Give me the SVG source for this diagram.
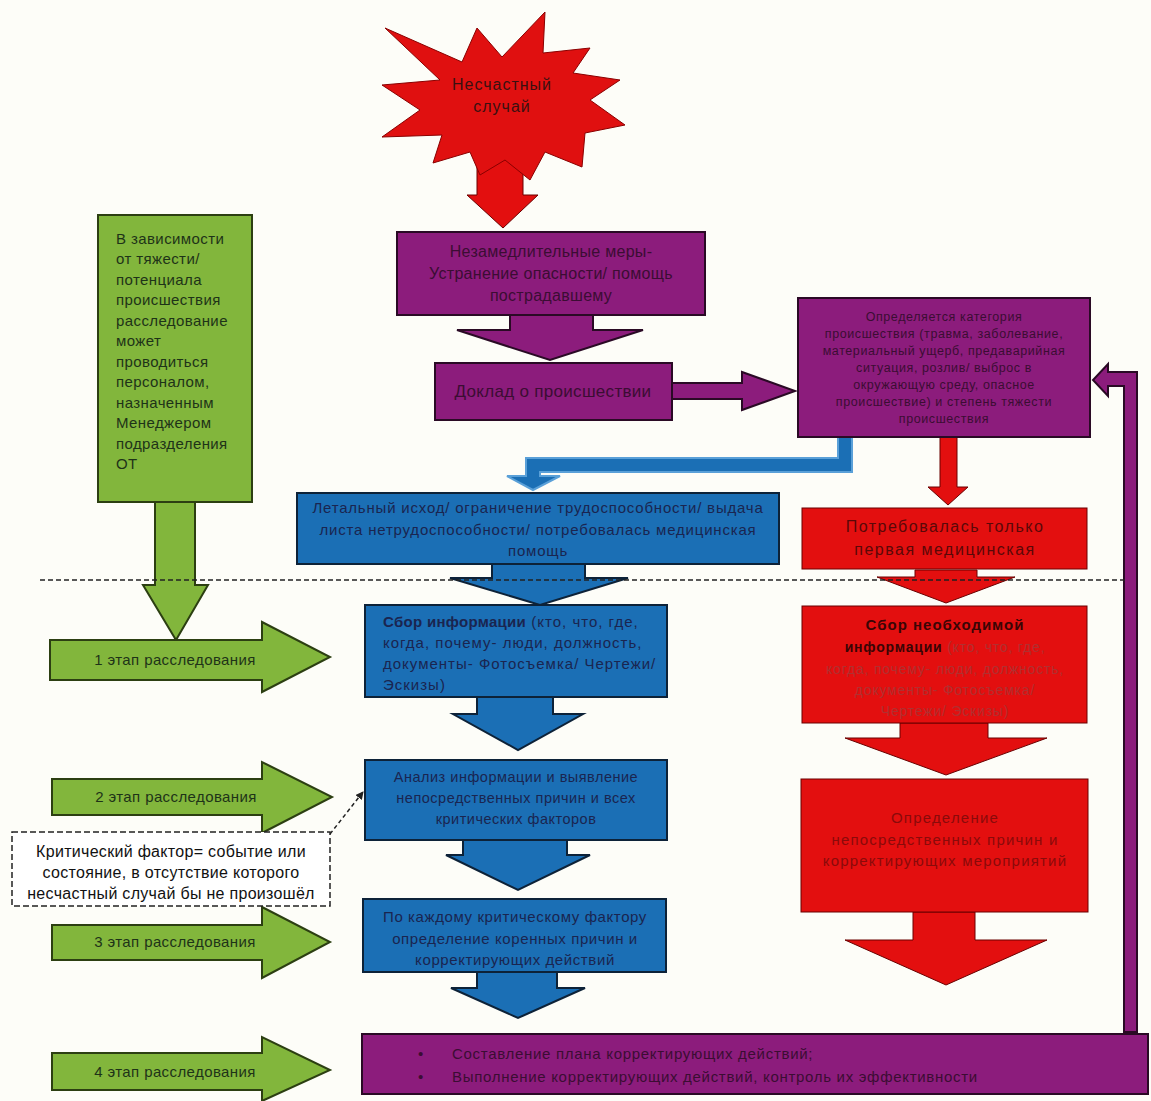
<svg xmlns="http://www.w3.org/2000/svg" width="1151" height="1101" viewBox="0 0 1151 1101">
<defs>
<style>
text{font-family:"Liberation Sans",Arial,sans-serif;}
.pu{fill:#8c1c7c;stroke:#2a0a25;stroke-width:2;}
.bl{fill:#1b6fb5;stroke:#0d2238;stroke-width:2;}
.rd{fill:#e30f0f;stroke:#6a0000;stroke-width:1;}
.gr{fill:#82b63c;stroke:#2c3f12;stroke-width:2;}
.tpu{fill:#3b0d33;font-size:16px;text-anchor:middle;letter-spacing:0.3px;}
.tbl{fill:#1a2550;font-size:15px;text-anchor:middle;letter-spacing:0.6px;}
.trd{fill:#5a0808;font-size:15px;text-anchor:middle;letter-spacing:1px;}
.tgr{fill:#1e3318;font-size:15px;letter-spacing:0.4px;}
.stage{fill:#1e3318;font-size:15px;text-anchor:middle;letter-spacing:0.4px;}
</style>
<marker id="ah" markerWidth="8" markerHeight="8" refX="7" refY="4" orient="auto" markerUnits="userSpaceOnUse">
<path d="M0,0 L8,4 L0,8 z" fill="#222"/>
</marker>
</defs>
<rect width="1151" height="1101" fill="#fdfdf8"/>

<g id="connectors">
<polygon class="rd" points="477,140 523,140 523,195 538,195 503,228 467,195 477,195"/>
<polygon class="pu" points="510,315 593,315 593,330 643,330 550,360 457,330 510,330"/>
<polygon class="pu" points="672,383 742,383 742,372 795,391 742,410 742,399 672,399"/>
<polygon class="bl" points="838,437 852,437 852,472 540,472 540,476 560,476 533,490 507,476 526,476 526,458 838,458" style="stroke:#5aa0d8"/>
<polygon class="rd" points="940,437 957,437 957,487 968,487 948,505 928,487 940,487"/>
<polygon class="bl" points="492,563 585,563 585,578 628,578 540,605 450,578 492,578"/>
<polygon class="rd" points="915,570 977,570 977,577 1015,577 946,603 877,577 915,577"/>
<polygon class="bl" points="477,697 553,697 553,714 583,714 518,750 453,714 477,714"/>
<polygon class="bl" points="463,840 567,840 567,855 590,855 518,890 446,855 463,855"/>
<polygon class="bl" points="477,972 557,972 557,988 585,988 518,1018 451,988 477,988"/>
<polygon class="rd" points="900,723 988,723 988,738 1047,738 946,775 845,738 900,738"/>
<polygon class="rd" points="913,912 975,912 975,940 1047,940 946,985 845,940 913,940"/>
<polygon class="gr" points="155,502 195,502 195,585 208,585 176,640 143,585 155,585"/>
<polygon class="gr" points="50,640 262,640 262,622 330,657 262,692 262,680 50,680"/>
<polygon class="gr" points="52,779 262,779 262,762 332,797 262,833 262,815 52,815"/>
<polygon class="gr" points="52,925 262,925 262,907 330,942 262,978 262,960 52,960"/>
<polygon class="gr" points="52,1053 262,1053 262,1037 330,1070 262,1101 262,1090 52,1090"/>
<polygon class="pu" points="1124,1032 1137,1032 1137,372 1108,372 1108,364 1093,380 1108,396 1108,386 1124,386"/>
<line x1="40" y1="580" x2="1125" y2="580" stroke="#222" stroke-width="1.5" stroke-dasharray="5,3"/>
<line x1="330" y1="834" x2="363" y2="792" stroke="#222" stroke-width="1.5" stroke-dasharray="4,3" marker-end="url(#ah)"/>
</g>

<g id="accident">
<polygon fill="#e01010" stroke="#8a0000" stroke-width="1" points="385,28 462,62 477,28 502,57 545,12 543,53 590,48 573,73 620,80 590,100 625,125 585,133 582,167 545,152 530,180 505,160 480,175 470,152 433,163 442,135 382,137 420,110 382,85 440,80"/>
<text class="tpu" x="502" y="90" style="fill:#3a1010;font-size:16px;letter-spacing:1px">Несчастный</text>
<text class="tpu" x="502" y="112" style="fill:#3a1010;font-size:16px;letter-spacing:1px">случай</text>
</g>

<g id="immediate">
<rect class="pu" x="397" y="232" width="308" height="83"/>
<text class="tpu" x="551" y="257">Незамедлительные меры-</text>
<text class="tpu" x="551" y="279">Устранение опасности/ помощь</text>
<text class="tpu" x="551" y="301">пострадавшему</text>
</g>

<g id="report">
<rect class="pu" x="435" y="363" width="237" height="57"/>
<text class="tpu" x="553" y="397" style="font-size:17px">Доклад о происшествии</text>
</g>

<g id="category">
<rect class="pu" x="798" y="298" width="292" height="139"/>
<g class="tpu" style="font-size:12.5px;letter-spacing:0.6px">
<text x="944" y="321">Определяется категория</text>
<text x="944" y="338">происшествия (травма, заболевание,</text>
<text x="944" y="355">материальный ущерб, предаварийная</text>
<text x="944" y="372">ситуация, розлив/ выброс в</text>
<text x="944" y="389">окружающую среду, опасное</text>
<text x="944" y="406">происшествие) и степень тяжести</text>
<text x="944" y="423">происшествия</text>
</g>
</g>

<g id="note-green">
<rect class="gr" x="98" y="215" width="154" height="287"/>
<g class="tgr">
<text x="116" y="244">В зависимости</text>
<text x="116" y="264">от тяжести/</text>
<text x="116" y="285">потенциала</text>
<text x="116" y="305">происшествия</text>
<text x="116" y="326">расследование</text>
<text x="116" y="346">может</text>
<text x="116" y="367">проводиться</text>
<text x="116" y="387">персоналом,</text>
<text x="116" y="408">назначенным</text>
<text x="116" y="428">Менеджером</text>
<text x="116" y="449">подразделения</text>
<text x="116" y="469">ОТ</text>
</g>
</g>

<g id="fatal">
<rect class="bl" x="297" y="493" width="482" height="71"/>
<text class="tbl" x="538" y="513" style="letter-spacing:0.8px">Летальный исход/ ограничение трудоспособности/ выдача</text>
<text class="tbl" x="538" y="535" style="letter-spacing:0.8px">листа нетрудоспособности/ потребовалась медицинская</text>
<text class="tbl" x="538" y="556" style="letter-spacing:0.8px">помощь</text>
</g>

<g id="firstaid">
<rect class="rd" x="802" y="508" width="285" height="61"/>
<text class="trd" x="945" y="532" style="font-size:16px;letter-spacing:1.5px">Потребовалась только</text>
<text class="trd" x="945" y="555" style="font-size:16px;letter-spacing:1.5px">первая медицинская</text>
</g>

<g id="stage1-label"><text class="stage" x="175" y="665">1 этап расследования</text></g>
<g id="stage2-label"><text class="stage" x="176" y="802">2 этап расследования</text></g>
<g id="stage3-label"><text class="stage" x="175" y="947">3 этап расследования</text></g>
<g id="stage4-label"><text class="stage" x="175" y="1077">4 этап расследования</text></g>

<g id="collect">
<rect class="bl" x="365" y="605" width="302" height="92"/>
<g class="tbl" style="text-anchor:start;letter-spacing:1px">
<text x="383" y="627"><tspan font-weight="bold" letter-spacing="0.3">Сбор информации</tspan> (кто, что, где,</text>
<text x="383" y="648">когда, почему- люди, должность,</text>
<text x="383" y="669">документы- Фотосъемка/ Чертежи/</text>
<text x="383" y="690">Эскизы)</text>
</g>
</g>

<g id="collect-red">
<rect class="rd" x="802" y="606" width="285" height="117"/>
<text class="trd" x="945" y="630" style="font-weight:bold;fill:#3a0505">Сбор необходимой</text>
<text class="trd" x="945" y="652" style="font-size:14px;letter-spacing:0.8px"><tspan style="font-weight:bold;fill:#3a0505">информации</tspan><tspan style="fill:#b03030"> (кто, что, где,</tspan></text>
<text class="trd" x="945" y="674" style="font-size:14px;letter-spacing:0.8px;fill:#b03030">когда, почему- люди, должность,</text>
<text class="trd" x="945" y="695" style="font-size:14px;letter-spacing:0.8px;fill:#b03030">документы- Фотосъемка/</text>
<text class="trd" x="945" y="716" style="font-size:14px;letter-spacing:0.8px;fill:#b03030">Чертежи/ Эскизы)</text>
</g>

<g id="analysis">
<rect class="bl" x="365" y="760" width="302" height="80"/>
<text class="tbl" x="516" y="782" style="font-size:14.5px;letter-spacing:0.5px">Анализ информации и выявление</text>
<text class="tbl" x="516" y="803" style="font-size:14.5px;letter-spacing:0.5px">непосредственных причин и всех</text>
<text class="tbl" x="516" y="824" style="font-size:14.5px;letter-spacing:0.5px">критических факторов</text>
</g>

<g id="determine-red">
<rect class="rd" x="801" y="779" width="287" height="133"/>
<text class="trd" x="945" y="823" style="fill:#8a0a0a;letter-spacing:1.2px">Определение</text>
<text class="trd" x="945" y="845" style="fill:#8a0a0a;letter-spacing:1.2px">непосредственных причин и</text>
<text class="trd" x="945" y="866" style="fill:#8a0a0a;letter-spacing:1.2px">корректирующих мероприятий</text>
</g>

<g id="critical-note">
<rect x="12" y="832" width="318" height="74" fill="#ffffff" stroke="#222" stroke-width="1.5" stroke-dasharray="6,3"/>
<text x="171" y="857" text-anchor="middle" style="font-size:16px;letter-spacing:0.3px;fill:#111">Критический фактор= событие или</text>
<text x="171" y="878" text-anchor="middle" style="font-size:16px;letter-spacing:0.3px;fill:#111">состояние, в отсутствие которого</text>
<text x="171" y="899" text-anchor="middle" style="font-size:16px;letter-spacing:0.3px;fill:#111">несчастный случай бы не произошёл</text>
</g>

<g id="each-factor">
<rect class="bl" x="363" y="899" width="303" height="73"/>
<text class="tbl" x="515" y="922">По каждому критическому фактору</text>
<text class="tbl" x="515" y="944">определение коренных причин и</text>
<text class="tbl" x="515" y="965">корректирующих действий</text>
</g>

<g id="plan">
<rect class="pu" x="362" y="1034" width="786" height="60"/>
<g class="tpu" style="text-anchor:start;font-size:15px;letter-spacing:0.7px">
<text x="418" y="1059">•</text>
<text x="452" y="1059">Составление плана корректирующих действий;</text>
<text x="418" y="1082">•</text>
<text x="452" y="1082">Выполнение корректирующих действий, контроль их эффективности</text>
</g>
</g>
</svg>
